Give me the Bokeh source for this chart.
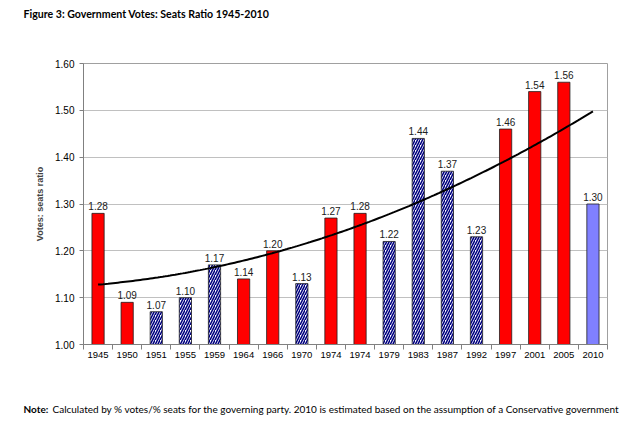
import numpy as np
from bokeh.plotting import figure
from bokeh.layouts import column, row
from bokeh.models import FixedTicker, NumeralTickFormatter, Label, ColumnDataSource, Range1d
from bokeh.core.properties import value
from bokeh.embed import file_html
from bokeh.resources import INLINE

years = ["1945", "1950", "1951", "1955", "1959", "1964", "1966", "1970", "1974",
         "1974", "1979", "1983", "1987", "1992", "1997", "2001", "2005", "2010"]
ratios = [1.28, 1.09, 1.07, 1.10, 1.17, 1.14, 1.20, 1.13, 1.27,
          1.28, 1.22, 1.44, 1.37, 1.23, 1.46, 1.54, 1.56, 1.30]
party = ["Lab", "Lab", "Con", "Con", "Con", "Lab", "Lab", "Con", "Lab",
         "Lab", "Con", "Con", "Con", "Con", "Lab", "Lab", "Lab", "Est"]
y_ticks = [1.00, 1.10, 1.20, 1.30, 1.40, 1.50, 1.60]
title_text = "Figure 3: Government Votes: Seats Ratio 1945-2010"
note_head = "Note:"
note_text = ("Calculated by % votes/% seats for the governing party. "
             "2010 is estimated based on the assumption of a Conservative government")

FONT = "Liberation Sans"
W = 636

idx = list(range(1, len(years) + 1))
fill_map = {"Lab": "#FF0000", "Con": "#FFFFFF", "Est": "#8080FF"}
hatch_map = {"Lab": " ", "Con": "/", "Est": " "}

src = ColumnDataSource(dict(
    x=idx, top=ratios,
    fill=[fill_map[p] for p in party],
    hatch=[hatch_map[p] for p in party],
    lbl=["%.2f" % r for r in ratios],
))


def text_fig(h):
    f = figure(output_backend="svg", toolbar_location=None, width=W, height=h,
               x_range=Range1d(0, W), y_range=Range1d(0, h),
               min_border=0, min_border_left=0, min_border_right=0,
               min_border_top=0, min_border_bottom=0,
               x_axis_type=None, y_axis_type=None)
    f.outline_line_color = None
    f.xgrid.grid_line_color = None
    f.ygrid.grid_line_color = None
    return f


# title strip
top = text_fig(40)
top.add_layout(Label(x=23, y=27, text=title_text, text_font="Lato",
                     text_font_style="bold", text_font_size="10.6px",
                     text_baseline="middle", text_color="#000000"))

# main chart
p = figure(output_backend="svg", toolbar_location=None,
           frame_width=524, frame_height=281,
           min_border_left=83, min_border_right=25,
           min_border_top=23, min_border_bottom=40,
           x_range=Range1d(0.5, len(years) + 0.5), y_range=Range1d(1.0, 1.6))
p.outline_line_color = "#A0A0A0"
p.outline_line_width = 1

p.vbar(x="x", top="top", bottom=1.0, width=0.42, source=src,
       fill_color="fill", line_color="#202020", line_width=0.8,
       hatch_pattern="hatch", hatch_color="#000080", hatch_scale=5, hatch_weight=1.6)

# quadratic trendline (Excel polynomial trendline, order 2) fitted to the data
coef = np.polyfit(idx, ratios, 2)
tx = np.linspace(1, len(years), 200)
p.line(tx, np.polyval(coef, tx), line_color="black", line_width=2)

p.text(x="x", y="top", text="lbl", source=src, text_align="center",
       text_baseline="bottom", y_offset=-3, text_font=value(FONT),
       text_font_size="10px", text_color="#202020")

p.xaxis.ticker = FixedTicker(ticks=idx, minor_ticks=[i + 0.5 for i in range(0, len(years) + 1)])
p.xaxis.major_label_overrides = {i: y for i, y in zip(idx, years)}
p.xaxis.major_tick_out = 0
p.xaxis.major_tick_in = 0
p.xaxis.minor_tick_out = 5
p.xaxis.minor_tick_in = 0
p.xaxis.minor_tick_line_color = "#808080"
p.xaxis.axis_line_color = "#808080"
p.xaxis.major_label_text_font = FONT
p.xaxis.major_label_text_font_size = "9.5px"
p.xaxis.major_label_text_color = "#000000"
p.xaxis.major_label_standoff = 2

p.yaxis.ticker = FixedTicker(ticks=y_ticks, minor_ticks=[])
p.yaxis.formatter = NumeralTickFormatter(format="0.00")
p.yaxis.major_tick_out = 4
p.yaxis.major_tick_in = 0
p.yaxis.major_tick_line_color = "#808080"
p.yaxis.axis_line_color = "#808080"
p.yaxis.major_label_text_font = FONT
p.yaxis.major_label_text_font_size = "10px"
p.yaxis.major_label_text_color = "#000000"
p.yaxis.major_label_standoff = 5
p.yaxis.axis_label = "Votes: seats ratio"
p.yaxis.axis_label_text_font = FONT
p.yaxis.axis_label_text_font_style = "bold"
p.yaxis.axis_label_text_font_size = "9px"
p.yaxis.axis_label_standoff = 7

p.xgrid.grid_line_color = None
p.ygrid.grid_line_color = "#C0C0C0"
p.ygrid.grid_line_width = 1

# note strip
note = text_fig(38)
note.add_layout(Label(x=23, y=14, text=note_head, text_font="Lato",
                      text_font_style="bold", text_font_size="10px",
                      text_baseline="middle", text_color="#000000"))
note.add_layout(Label(x=52, y=14, text=note_text, text_font="Lato",
                      text_font_size="10px",
                      text_baseline="middle", text_color="#000000"))

layout = column(row(top), p, row(note), spacing=0)
open("out.html", "w").write(file_html(layout, INLINE))
